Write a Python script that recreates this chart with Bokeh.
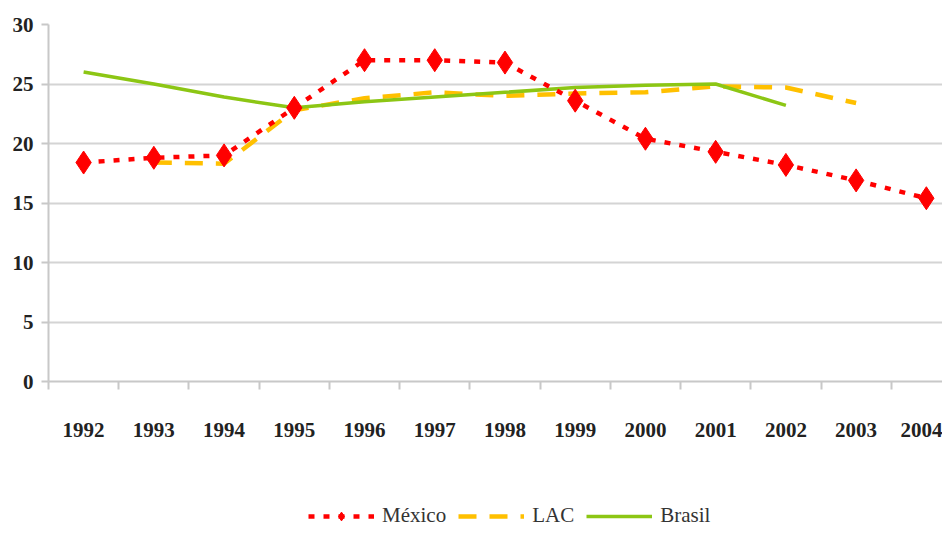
from bokeh.plotting import figure
from bokeh.models import Range1d, FixedTicker, Legend, LegendItem
from bokeh.layouts import column
from bokeh.embed import file_html
from bokeh.resources import INLINE

years = ["1992", "1993", "1994", "1995", "1996", "1997", "1998",
         "1999", "2000", "2001", "2002", "2003", "2004"]
nan = float("nan")
mexico = [18.4, 18.8, 19.0, 23.0, 27.0, 27.0, 26.8, 23.6, 20.4, 19.3, 18.2, 16.9, 15.4]
lac = [nan, 18.4, 18.3, 22.8, 23.8, 24.3, 24.0, 24.2, 24.3, 24.8, 24.7, 23.4, nan]
brasil = [26.0, 25.0, 23.9, 23.0, 23.5, 23.9, 24.3, 24.7, 24.9, 25.0, 23.2, nan, nan]
y_ticks = [0, 5, 10, 15, 20, 25, 30]
series_names = ["México", "LAC", "Brasil"]

xs = list(range(len(years)))

FONT = "Liberation Serif"
GRAY = "#c8c8c8"
RED, YELLOW, GREEN = "#FF0000", "#FFC000", "#8CC614"

p = figure(width=942, height=450, x_range=Range1d(-0.5, 12.23), y_range=Range1d(0, 30),
           output_backend="svg", toolbar_location=None,
           min_border_left=48, min_border_right=0, min_border_top=24, min_border_bottom=69)
p.outline_line_color = None
p.background_fill_color = "white"
p.border_fill_color = "white"

# grid
p.xgrid.visible = False
p.ygrid.grid_line_color = "#d4d4d4"
p.ygrid.grid_line_width = 2
p.ygrid.ticker = FixedTicker(ticks=y_ticks)

# y axis
p.yaxis.ticker = FixedTicker(ticks=y_ticks)
p.yaxis.axis_line_color = GRAY
p.yaxis.axis_line_width = 2
p.yaxis.major_tick_line_color = GRAY
p.yaxis.major_tick_line_width = 2
p.yaxis.major_tick_in = 0
p.yaxis.major_tick_out = 7
p.yaxis.minor_tick_line_color = None
p.yaxis.major_label_text_font = FONT
p.yaxis.major_label_text_font_style = "bold"
p.yaxis.major_label_text_font_size = "21px"
p.yaxis.major_label_text_color = "#222222"
p.yaxis.major_label_standoff = 8

# x axis (category-like: ticks at band boundaries, labels at centres)
boundaries = [i - 0.5 for i in range(len(years) + 1)]
p.xaxis.ticker = FixedTicker(ticks=xs, minor_ticks=boundaries)
p.xaxis.major_label_overrides = {i: y for i, y in zip(xs, years)}
p.xaxis.axis_line_color = GRAY
p.xaxis.axis_line_width = 2
p.xaxis.major_tick_line_color = None
p.xaxis.major_tick_in = 0
p.xaxis.major_tick_out = 0
p.xaxis.minor_tick_line_color = GRAY
p.xaxis.minor_tick_line_width = 2
p.xaxis.minor_tick_in = 0
p.xaxis.minor_tick_out = 8
p.xaxis.major_label_text_font = FONT
p.xaxis.major_label_text_font_style = "bold"
p.xaxis.major_label_text_font_size = "21px"
p.xaxis.major_label_text_color = "#222222"
p.xaxis.major_label_standoff = 33

# series
p.line(xs, lac, line_color=YELLOW, line_width=4.5, line_dash="18 13")
p.line(xs, brasil, line_color=GREEN, line_width=3.5)
p.line(xs, mexico, line_color=RED, line_width=4.5, line_dash="6 9")
p.scatter(xs, mexico, marker="diamond", size=23, fill_color=RED, line_color=RED)

# legend strip below the chart (its renderers sit outside the visible range)
lg = figure(width=942, height=78, x_range=Range1d(0, 1), y_range=Range1d(0, 1),
            output_backend="svg", toolbar_location=None,
            min_border_left=0, min_border_right=0, min_border_top=0, min_border_bottom=0)
lg.axis.visible = False
lg.grid.visible = False
lg.outline_line_color = None
lg.border_fill_color = "white"
off = [-10, -9]
l_mex = lg.line(off, off, line_color=RED, line_width=4.5, line_dash="6 9")
m_mex = lg.scatter(off, off, marker="diamond", size=23, fill_color=RED, line_color=RED)
l_lac = lg.line(off, off, line_color=YELLOW, line_width=4.5, line_dash="18 13")
l_bra = lg.line(off, off, line_color=GREEN, line_width=3.5)

legend = Legend(items=[
    LegendItem(label=series_names[0], renderers=[l_mex, m_mex]),
    LegendItem(label=series_names[1], renderers=[l_lac]),
    LegendItem(label=series_names[2], renderers=[l_bra]),
], orientation="horizontal", location=(260, 0))
legend.border_line_color = None
legend.background_fill_alpha = 0
legend.label_text_font = FONT
legend.label_text_font_size = "21px"
legend.label_text_color = "#333333"
legend.glyph_width = 66
legend.glyph_height = 22
legend.label_standoff = 8
legend.spacing = 12
legend.padding = 0
legend.margin = 0
lg.add_layout(legend, "center")

layout = column(p, lg, spacing=0)
open("out.html", "w").write(file_html(layout, INLINE))
